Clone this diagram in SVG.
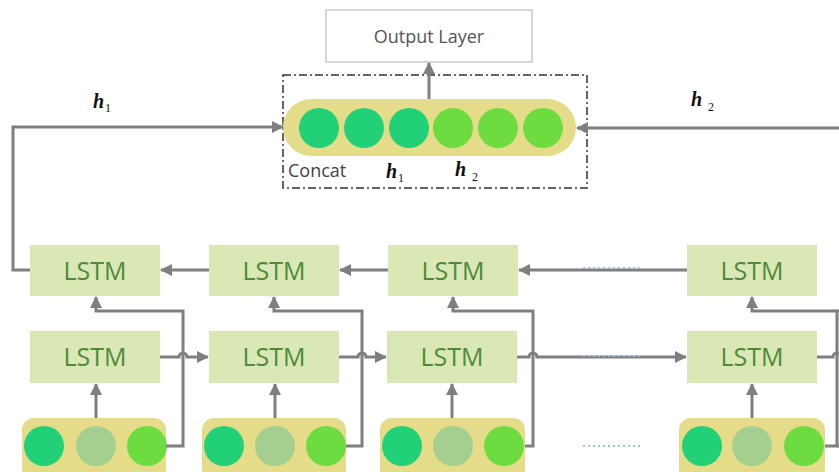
<svg xmlns="http://www.w3.org/2000/svg" width="839" height="472" viewBox="0 0 839 472">
<style>
.lstm rect{fill:#d9e8b4}
.lstm text{font-family:"Open Sans","Liberation Sans",sans-serif;font-size:25px;fill:#4f8a3b;text-anchor:middle}
.pill{fill:#e5dc8a}
.c1{fill:#22d078}
.c2{fill:#a4cf8e}
.c3{fill:#6ddc41}
.ln{fill:none;stroke:#7f7f7f;stroke-width:3}
.math{font-family:"Liberation Serif",serif;font-style:italic;font-weight:bold;fill:#111}
.sub{font-family:"Liberation Serif",serif;font-size:12px;fill:#111}
.dots{fill:none;stroke:#9dbde6;stroke-width:2;stroke-dasharray:2 3}
</style>
<defs>
<marker id="ah" markerUnits="userSpaceOnUse" markerWidth="12" markerHeight="12" refX="11" refY="6" orient="auto">
<path d="M0,0 L12,6 L0,12 z" fill="#7f7f7f"/>
</marker>
</defs>
<rect width="839" height="472" fill="#fff"/>

<g id="output-layer">
<rect x="326" y="10" width="206" height="52" fill="#fff" stroke="#c8c8c8" stroke-width="1.5"/>
<text x="429" y="43" font-family="Open Sans, Liberation Sans, sans-serif" font-size="18" fill="#555" text-anchor="middle">Output Layer</text>
</g>

<g id="concat">
<rect x="283" y="75" width="304" height="113" fill="none" stroke="#333" stroke-width="1.5" stroke-dasharray="8 3 2 3"/>
<rect class="pill" x="283" y="99" width="293" height="57" rx="28.5"/>
<circle class="c1" cx="319" cy="128" r="20"/>
<circle class="c1" cx="364" cy="128" r="20"/>
<circle class="c1" cx="409" cy="128" r="20"/>
<circle class="c3" cx="453" cy="128" r="20"/>
<circle class="c3" cx="498" cy="128" r="20"/>
<circle class="c3" cx="543" cy="128" r="20"/>
<text x="288" y="177" font-family="Open Sans, Liberation Sans, sans-serif" font-size="18" fill="#444">Concat</text>
<text class="math" x="386" y="178" font-size="20">h</text><text class="sub" x="398" y="182">1</text>
<text class="math" x="455" y="176" font-size="20">h</text><text class="sub" x="472" y="181">2</text>
</g>

<g id="lstm-b1" class="lstm"><rect x="30" y="245" width="130" height="51"/><text x="95" y="280">LSTM</text></g>
<g id="lstm-b2" class="lstm"><rect x="209" y="245" width="130" height="51"/><text x="274" y="280">LSTM</text></g>
<g id="lstm-b3" class="lstm"><rect x="388" y="245" width="130" height="51"/><text x="453" y="280">LSTM</text></g>
<g id="lstm-b4" class="lstm"><rect x="687" y="245" width="130" height="51"/><text x="752" y="280">LSTM</text></g>

<g id="lstm-f1" class="lstm"><rect x="30" y="331" width="130" height="52"/><text x="95" y="366">LSTM</text></g>
<g id="lstm-f2" class="lstm"><rect x="209" y="331" width="130" height="52"/><text x="274" y="366">LSTM</text></g>
<g id="lstm-f3" class="lstm"><rect x="387" y="331" width="130" height="52"/><text x="452" y="366">LSTM</text></g>
<g id="lstm-f4" class="lstm"><rect x="687" y="331" width="130" height="52"/><text x="752" y="366">LSTM</text></g>

<g id="input1"><rect class="pill" x="22" y="418" width="144" height="64" rx="12"/><circle class="c1" cx="44" cy="446" r="20"/><circle class="c2" cx="96" cy="446" r="20"/><circle class="c3" cx="147" cy="446" r="20"/></g>
<g id="input2"><rect class="pill" x="202" y="418" width="144" height="64" rx="12"/><circle class="c1" cx="224" cy="446" r="20"/><circle class="c2" cx="275" cy="446" r="20"/><circle class="c3" cx="326" cy="446" r="20"/></g>
<g id="input3"><rect class="pill" x="380" y="418" width="145" height="64" rx="12"/><circle class="c1" cx="402" cy="446" r="20"/><circle class="c2" cx="453" cy="446" r="20"/><circle class="c3" cx="504" cy="446" r="20"/></g>
<g id="input4"><rect class="pill" x="679" y="418" width="146" height="64" rx="12"/><circle class="c1" cx="702" cy="446" r="20"/><circle class="c2" cx="752" cy="446" r="20"/><circle class="c3" cx="804" cy="446" r="20"/></g>

<g id="labels">
<text class="math" x="93" y="108" font-size="20">h</text><text class="sub" x="105" y="112">1</text>
<text class="math" x="691" y="106" font-size="20">h</text><text class="sub" x="708" y="111">2</text>
</g>

<g id="connectors">
<path class="ln" d="M429,99 V63" marker-end="url(#ah)"/>
<path class="ln" d="M30,270 H13 V127 H283" marker-end="url(#ah)"/>
<path class="ln" d="M839,128 H577" marker-end="url(#ah)"/>

<path class="ln" d="M209,270 H161" marker-end="url(#ah)"/>
<path class="ln" d="M388,270 H340" marker-end="url(#ah)"/>
<path class="ln" d="M687,270 H519" marker-end="url(#ah)"/>

<path class="ln" d="M160,357 H179 a4,4 0 0 1 8,0 H208" marker-end="url(#ah)"/>
<path class="ln" d="M339,357 H358 a4,4 0 0 1 8,0 H386" marker-end="url(#ah)"/>
<path class="ln" d="M517,357 H529 a4,4 0 0 1 8,0 H686" marker-end="url(#ah)"/>
<path class="ln" d="M817,357 H833 a4,4 0 0 1 8,0"/>

<path class="ln" d="M96,418 V384" marker-end="url(#ah)"/>
<path class="ln" d="M275,418 V384" marker-end="url(#ah)"/>
<path class="ln" d="M452,418 V384" marker-end="url(#ah)"/>
<path class="ln" d="M752,418 V384" marker-end="url(#ah)"/>

<path class="ln" d="M166,446 H183 V311 H96 V297" marker-end="url(#ah)"/>
<path class="ln" d="M346,446 H362 V311 H274 V297" marker-end="url(#ah)"/>
<path class="ln" d="M525,446 H533 V311 H453 V297" marker-end="url(#ah)"/>
<path class="ln" d="M825,446 H837 V311 H752 V297" marker-end="url(#ah)"/>
<path class="ln" d="M837,311 H839"/>
<path class="ln" d="M837,446 H839"/>

<path class="dots" d="M583,268 H640"/>
<path class="dots" d="M583,356 H640"/>
<path class="dots" d="M583,446 H640"/>
</g>
</svg>
